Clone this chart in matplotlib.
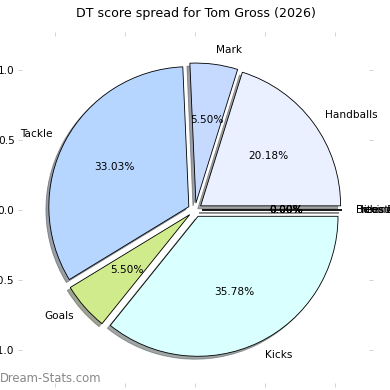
import matplotlib
matplotlib.use("Agg")
import matplotlib.pyplot as plt

labels = ["Handballs", "Mark", "Tackle", "Goals", "Kicks", "Behinds", "Hitouts", "Frees For", "Frees Against"]
values = [22, 6, 36, 6, 39, 0, 0, 0, 0]
colors = ["#EAF0FF", "#C6D9FF", "#B6D6FF", "#D0EB8C", "#DAFFFF", "#FFE0E0", "#E0FFE0", "#FFF0C0", "#F0E0FF"]
explode = [0.05] * len(values)

dpi = 76
fig = plt.figure(figsize=(390 / dpi, 390 / dpi), dpi=dpi)
ax = fig.add_axes([22 / 390, 7 / 390, 347 / 390, 347 / 390])

ax.pie(values, labels=labels, colors=colors, explode=explode, autopct="%.2f%%",
       shadow=True, startangle=0, frame=True,
       wedgeprops=dict(edgecolor="black", linewidth=0.8))
ax.set_xlim(-1.236, 1.243)
ax.set_ylim(-1.236, 1.243)
ax.set_aspect("equal")
ax.set_xticks([-1.0, -0.5, 0.0, 0.5, 1.0])
ax.set_yticks([-1.0, -0.5, 0.0, 0.5, 1.0])
for s in ax.spines.values():
    s.set_visible(False)
ax.tick_params(axis="both", which="both", color="#cccccc", top=True, right=True,
               direction="out")
ax.set_title("DT score spread for Tom Gross (2026)", pad=18)

fig.text(0.0, 384 / 390 * 0 + 5 / 390, "Dream-Stats.com", color="#888888", fontsize=11,
         ha="left", va="bottom")

fig.savefig("out.png", dpi=dpi)
